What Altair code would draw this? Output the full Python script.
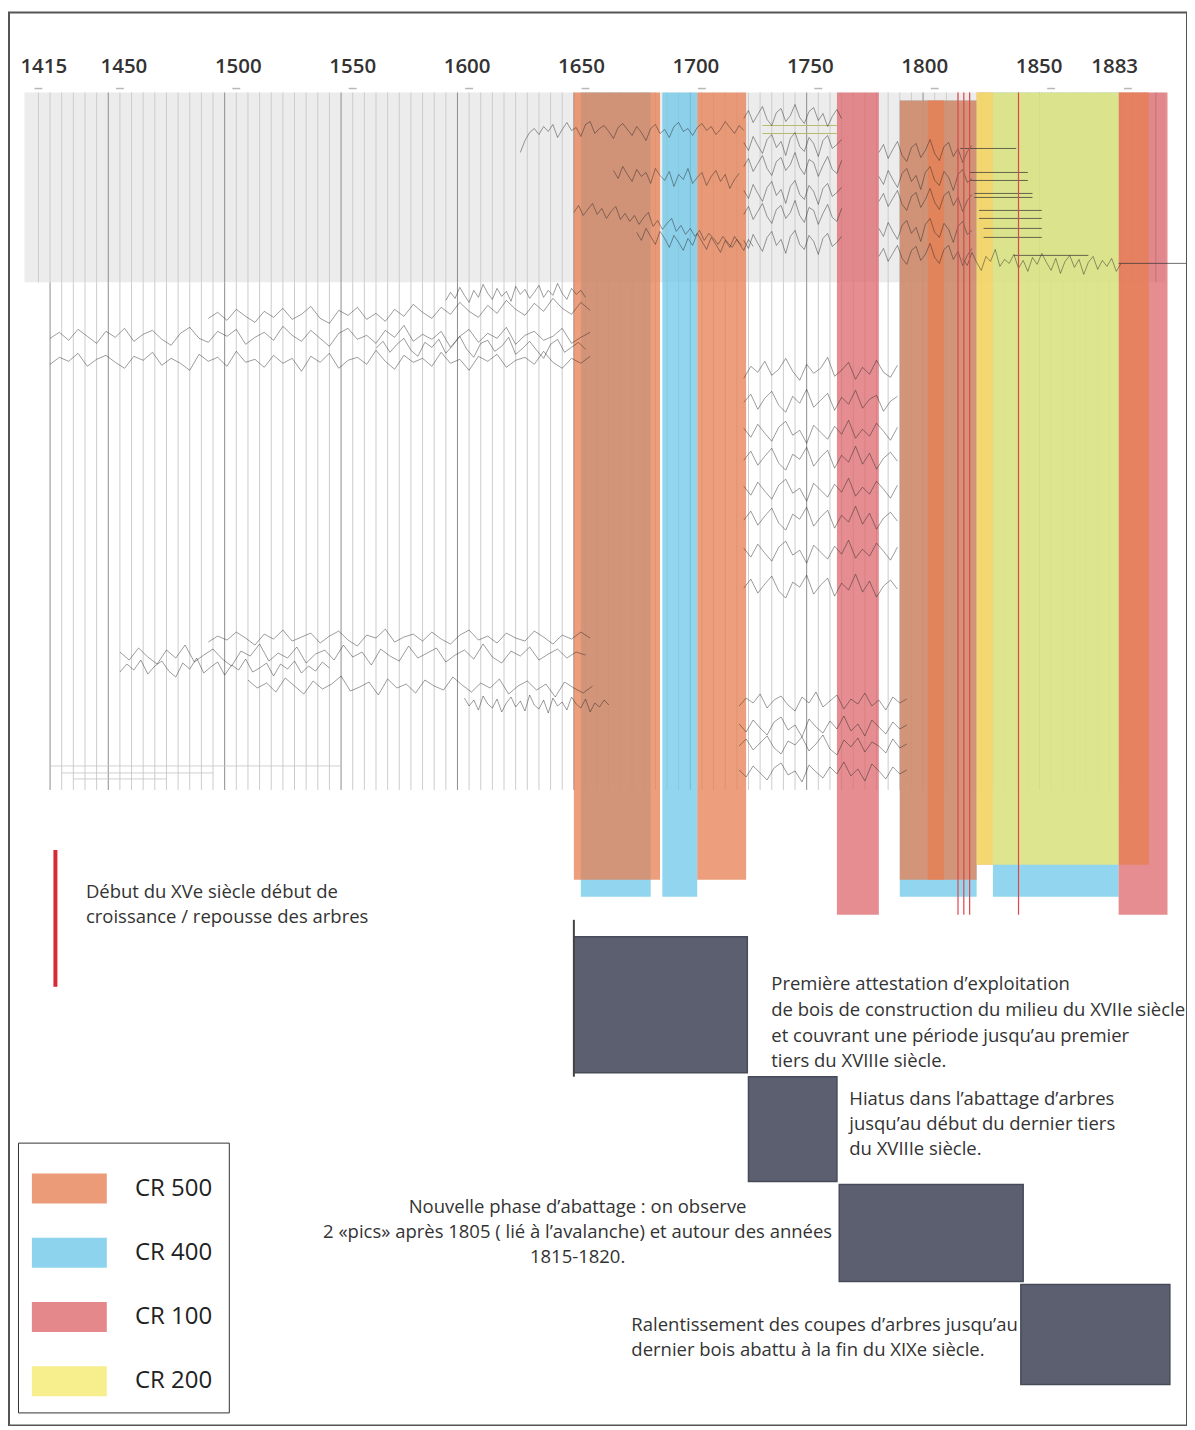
import altair as alt
import pandas as pd

# ---------------- axis / layout data ----------------
TICK_YEARS = [1415, 1450, 1500, 1550, 1600, 1650, 1700, 1750, 1800, 1850, 1883]
TICK_LABELS = ["1415", "1450", "1500", "1550", "1600", "1650", "1700", "1750", "1800", "1850", "1883"]
X_DOMAIN = [1402.36, 1908.37]
LABEL_X_DOMAIN = [1399.78, 1914.63]
Y_DOMAIN = [12, 1426]

GRAY_YEARS = [1409, 1899]
GRAY_ROWS = [92, 282]
UPPER_GRID_YEARS = list(range(1415, 1900, 5))
LOWER_GRID_YEARS = list(range(1420, 1885, 5))
LOWER_ROWS = [282, 790]

# ---------------- tree-ring series (year start, step, values) ----------------
T1 = (1622, 2, [152, 140, 132, 128, 134, 126, 131, 124, 137, 129, 122, 130, 127, 136, 124, 121, 133, 128, 125, 131, 138, 127, 123, 129, 135, 126, 132, 140, 128, 124, 133, 129, 137, 126, 122, 131, 128, 135, 127, 123, 130, 126, 134, 129, 121, 127, 133, 125, 130])
T2 = (1662, 2, [170, 178, 166, 174, 181, 169, 176, 172, 183, 168, 175, 180, 171, 186, 174, 179, 168, 183, 177, 172, 185, 176, 170, 181, 174, 188, 179, 173])
T3 = (1645, 2, [212, 205, 215, 209, 203, 214, 208, 218, 211, 206, 219, 213, 221, 215, 224, 217, 212, 226, 220, 229, 223, 218, 231, 225, 234, 228, 236, 230, 240, 233, 238, 244, 236, 242, 247, 239, 245])
T4 = (1672, 2, [232, 240, 228, 236, 244, 231, 238, 247, 235, 242, 250, 238, 245, 233, 241, 249, 237, 244, 252, 240, 247, 236, 243, 250, 239, 246])
C1 = (1718, 2, [118, 110, 122, 114, 106, 119, 125, 112, 108, 121, 115, 104, 117, 123, 111, 107, 120, 113, 126, 116, 109, 118])
C2 = (1718, 2, [142, 150, 136, 145, 153, 139, 134, 147, 141, 155, 138, 132, 146, 151, 137, 143, 156, 140, 135, 148, 144, 139])
C3 = (1718, 2, [166, 158, 171, 163, 155, 168, 175, 161, 157, 170, 164, 152, 167, 174, 159, 162, 176, 165, 156, 169, 173, 160])
C4 = (1718, 2, [190, 198, 184, 193, 201, 187, 181, 195, 189, 203, 186, 180, 194, 199, 185, 191, 204, 188, 183, 196, 192, 187])
C5 = (1718, 2, [214, 206, 219, 211, 203, 216, 223, 209, 205, 218, 212, 200, 215, 222, 207, 210, 224, 213, 204, 217, 221, 208])
C6 = (1718, 2, [240, 248, 234, 243, 251, 237, 231, 245, 239, 253, 236, 230, 244, 249, 235, 241, 254, 238, 233, 246, 242, 236])
R1 = (1776, 2, [152, 144, 158, 149, 141, 155, 161, 147, 143, 157, 150, 139, 153, 160, 146, 142, 156, 148, 162, 151, 145])
R2 = (1776, 2, [176, 184, 170, 179, 187, 173, 168, 181, 175, 189, 172, 166, 180, 185, 171, 177, 190, 174, 169, 182, 178])
R3 = (1776, 2, [201, 193, 206, 198, 190, 204, 210, 196, 192, 207, 199, 188, 202, 209, 195, 191, 205, 197, 211, 200, 194])
R4 = (1776, 2, [228, 236, 222, 231, 239, 225, 220, 233, 227, 241, 224, 218, 232, 237, 223, 229, 242, 226, 221, 234, 230])
R5 = (1776, 2, [256, 248, 261, 253, 245, 258, 264, 250, 246, 260, 254, 243, 257, 263, 249, 245, 259, 251, 265, 255, 248])
T5 = (1812, 2, [258, 265, 252, 262, 270, 256, 261, 249, 266, 259, 263, 254, 268, 260, 271, 257, 264, 253, 262, 270, 258, 273, 261, 255, 267, 259, 274, 262, 256, 269, 260, 266, 258, 271, 263])

MA = (1420, 4, [338, 332, 340, 329, 336, 343, 331, 337, 328, 341, 334, 330, 339, 345, 333, 327, 338, 342, 331, 336, 329, 344, 337, 332, 340, 326, 335, 341, 330, 338, 346, 333, 328, 339, 335, 343, 330, 337, 325, 341, 334, 339, 331, 347, 336, 329, 342, 333, 338, 327, 344, 335, 331, 340, 336, 328, 343, 337, 332])
MB = (1420, 4, [364, 357, 361, 353, 366, 359, 355, 362, 368, 356, 360, 352, 365, 358, 363, 370, 354, 361, 357, 366, 351, 362, 359, 367, 355, 363, 358, 371, 356, 362, 353, 368, 360, 357, 364, 350, 361, 369, 355, 362, 358, 366, 352, 363, 359, 370, 356, 361, 354, 367, 360, 357, 364, 351, 362, 368, 358, 363, 356])
MC = (1488, 4, [318, 312, 320, 309, 316, 322, 311, 317, 308, 319, 314, 306, 318, 323, 310, 315, 307, 319, 313, 321, 309, 316, 304, 312, 318, 307, 314, 302, 311, 317, 305, 313, 300, 309, 315, 303, 311, 298, 308, 314, 302, 310])
MD = (1590, 2, [300, 292, 298, 287, 295, 302, 290, 297, 284, 293, 299, 288, 296, 291, 301, 286, 294, 289, 298, 292, 285, 297, 290, 295, 283, 293, 299, 288, 294, 290, 297])
ME = (1560, 3, [348, 341, 352, 344, 338, 350, 356, 342, 347, 339, 353, 345, 336, 349, 357, 343, 340, 351, 346, 337, 354, 348, 341, 350, 358, 344, 339, 352, 347, 342, 349])

K1 = (1718, 3, [378, 366, 372, 361, 375, 369, 358, 371, 380, 364, 373, 368, 357, 376, 370, 362, 379, 367, 374, 360, 372, 377, 365])
K2 = (1718, 3, [402, 394, 409, 398, 391, 405, 412, 396, 403, 389, 407, 400, 393, 410, 397, 404, 390, 408, 399, 395, 411, 401, 396])
K3 = (1718, 3, [428, 437, 424, 433, 441, 427, 421, 435, 430, 443, 425, 432, 439, 426, 434, 420, 438, 429, 436, 423, 431, 440, 427])
K4 = (1718, 3, [460, 451, 465, 456, 448, 463, 470, 454, 459, 447, 466, 457, 450, 468, 455, 462, 446, 464, 453, 469, 458, 452, 461])
K5 = (1718, 3, [486, 495, 482, 491, 499, 485, 479, 493, 488, 501, 483, 490, 497, 484, 492, 478, 496, 487, 494, 481, 489, 498, 485])
K6 = (1718, 3, [520, 511, 525, 516, 508, 523, 530, 514, 519, 507, 526, 517, 510, 528, 515, 522, 506, 524, 513, 529, 518, 512, 521])
K7 = (1718, 3, [548, 557, 544, 553, 561, 547, 541, 555, 550, 563, 545, 552, 559, 546, 554, 540, 558, 549, 556, 543, 551, 560, 547])
K8 = (1718, 3, [588, 579, 593, 584, 576, 591, 598, 582, 587, 575, 594, 585, 578, 596, 583, 590, 574, 592, 581, 597, 586, 580, 589])

LA = (1488, 4, [642, 636, 640, 632, 638, 645, 634, 639, 630, 641, 637, 633, 643, 636, 631, 640, 646, 635, 638, 629, 642, 637, 634, 641, 632, 639, 644, 635, 630, 640, 636, 643, 633, 638, 641, 631, 637, 644, 635, 639, 632, 638])
LB = (1450, 4, [652, 660, 648, 657, 664, 650, 658, 645, 662, 655, 649, 659, 666, 651, 656, 644, 661, 653, 658, 647, 663, 654, 650, 660, 645, 657, 652, 665, 649, 656, 661, 646, 658, 653, 648, 662, 655, 650, 659, 644, 657, 663, 651, 656, 647, 660, 654, 649, 658, 652, 655])
LC = (1450, 3, [672, 664, 670, 660, 674, 666, 661, 671, 677, 663, 669, 658, 673, 667, 662, 675, 665, 670, 659, 672, 668, 663, 676, 664, 669, 661, 673, 666, 671, 662, 668])
LD = (1505, 4, [680, 688, 683, 692, 678, 686, 694, 681, 689, 684, 676, 691, 687, 682, 695, 679, 688, 684, 693, 680, 686, 690, 677, 685, 692, 683, 688, 679, 694, 686, 681, 690, 684, 697, 682, 688, 693, 686])
LE = (1598, 2, [698, 706, 700, 710, 696, 704, 708, 699, 712, 703, 697, 707, 701, 711, 695, 705, 709, 700, 713, 698, 706, 702, 710, 697, 704, 708, 699, 712, 703, 707, 700, 705])

Q1 = (1716, 3, [706, 698, 703, 694, 708, 700, 696, 705, 711, 697, 703, 692, 707, 701, 695, 709, 699, 704, 693, 706, 700, 710, 697, 703, 699])
Q2 = (1716, 3, [724, 732, 720, 728, 735, 722, 717, 730, 725, 737, 719, 727, 733, 721, 729, 716, 731, 724, 736, 720, 727, 734, 722, 729, 725])
Q3 = (1716, 3, [746, 739, 750, 743, 736, 748, 754, 741, 745, 737, 751, 744, 735, 749, 755, 740, 747, 738, 752, 742, 746, 753, 739, 748, 744])
Q4 = (1716, 3, [770, 777, 766, 773, 780, 768, 763, 775, 771, 782, 765, 772, 778, 767, 774, 762, 776, 769, 781, 764, 771, 779, 767, 774, 770])

SERIES = {"T1": T1, "T2": T2, "T3": T3, "T4": T4, "C1": C1, "C2": C2, "C3": C3, "C4": C4,
          "C5": C5, "C6": C6, "R1": R1, "R2": R2, "R3": R3, "R4": R4, "R5": R5, "T5": T5,
          "MA": MA, "MB": MB, "MC": MC, "MD": MD, "ME": ME,
          "K1": K1, "K2": K2, "K3": K3, "K4": K4, "K5": K5, "K6": K6, "K7": K7, "K8": K8,
          "LA": LA, "LB": LB, "LC": LC, "LD": LD, "LE": LE,
          "Q1": Q1, "Q2": Q2, "Q3": Q3, "Q4": Q4}

# short sample bars (straight segments)
BAR_START = [1811, 1815, 1815, 1817, 1817, 1819, 1819, 1821, 1821, 1834, 1879]
BAR_END = [1835, 1840, 1840, 1842, 1842, 1846, 1846, 1846, 1846, 1866, 1908]
BAR_ROW = [148, 172, 180, 193, 197, 210, 218, 228, 237, 255, 263]
FAINT_START = [1420, 1425, 1430]
FAINT_END = [1545, 1490, 1470]
FAINT_ROW = [766, 773, 779]
OLIVE_START = [1726, 1726]
OLIVE_END = [1758, 1758]
OLIVE_ROW = [125, 133]

# ---------------- felling bands ----------------
BAND_TYPE = ["CR 400", "CR 400", "CR 400", "CR 400",
             "CR 100", "CR 100",
             "CR 500", "CR 500", "CR 500", "CR 500", "CR 500", "CR 500",
             "CR 200"]
BAND_START = [1648, 1683, 1785, 1825, 1758, 1879, 1645, 1698, 1785, 1797, 1818, 1879, 1818]
BAND_END = [1678, 1698, 1818, 1879, 1776, 1900, 1682, 1719, 1818, 1804, 1825, 1892, 1879]
BAND_TOP = [92, 92, 100, 92, 92, 92, 92, 92, 100, 100, 92, 92, 92]
BAND_BOTTOM = [897, 897, 897, 897, 915, 915, 880, 880, 880, 880, 865, 865, 865]
LEGEND_ORDER = ["CR 500", "CR 400", "CR 100", "CR 200"]
LEGEND_COLORS = ["#e77f52", "#6ec7e8", "#dc676b", "#f5ea6e"]

RED_LINE_YEARS = [1810, 1812.5, 1815, 1836]
RED_LINE_ROWS = [92, 915]

# ---------------- phases ----------------
PHASE_START = [1645, 1720, 1759, 1837]
PHASE_END = [1719.5, 1758, 1838, 1901]
PHASE_TOP = [937, 1077, 1185, 1285]
PHASE_BOTTOM = [1073, 1182, 1282, 1385]

MARKER_YEAR = [1645]
MARKER_ROWS = [920, 1077]
RED_BAR_YEAR = [1422.3]
RED_BAR_ROWS = [850, 987]

# ---------------- annotations ----------------
NOTE_LEFT_YEAR = [1435.4, 1435.4,
                  1729.8, 1729.8, 1729.8, 1729.8,
                  1763.3, 1763.3, 1763.3,
                  1669.7, 1669.7]
NOTE_LEFT_ROW = [892, 917, 984, 1010, 1036, 1061, 1099, 1124, 1149, 1326, 1351]
NOTE_LEFT_TEXT = ["Début du XVe siècle début de",
                  "croissance / repousse des arbres",
                  "Première attestation d’exploitation",
                  "de bois de construction du milieu du XVIIe siècle",
                  "et couvrant une période jusqu’au premier",
                  "tiers du XVIIIe siècle.",
                  "Hiatus dans l’abattage d’arbres",
                  "jusqu’au début du dernier tiers",
                  "du XVIIIe siècle.",
                  "Ralentissement des coupes d’arbres jusqu’au",
                  "dernier bois abattu à la fin du XIXe siècle."]
NOTE_CENTER_YEAR = [1646.6, 1646.6, 1646.6]
NOTE_CENTER_ROW = [1207, 1232, 1257]
NOTE_CENTER_TEXT = ["Nouvelle phase d’abattage : on observe",
                    "2 «pics» après 1805 ( lié à l’avalanche) et autour des années",
                    "1815-1820."]

FONT = "Open Sans"

# ---------------- build tables ----------------
xsc = alt.Scale(domain=X_DOMAIN, nice=False, zero=False)
xsc_labels = alt.Scale(domain=LABEL_X_DOMAIN, nice=False, zero=False)
ysc = alt.Scale(domain=Y_DOMAIN, reverse=True, nice=False, zero=False)


def X(f, scale=xsc):
    return alt.X(f, type="quantitative", scale=scale, axis=None)


def Y(f):
    return alt.Y(f, type="quantitative", scale=ysc, axis=None)


gray_df = pd.DataFrame({"x0": [GRAY_YEARS[0]], "x1": [GRAY_YEARS[1]], "y0": [GRAY_ROWS[0]], "y1": [GRAY_ROWS[1]]})

grid_rows = []
for yr in UPPER_GRID_YEARS:
    grid_rows.append({"x": yr, "y0": GRAY_ROWS[0], "y1": GRAY_ROWS[1], "dark": (yr - 1445) % 50 == 0})
for yr in LOWER_GRID_YEARS:
    grid_rows.append({"x": yr, "y0": LOWER_ROWS[0], "y1": LOWER_ROWS[1], "dark": (yr - 1445) % 50 == 0 or yr == 1420})
grid_df = pd.DataFrame(grid_rows)

tick_df = pd.DataFrame({"year": TICK_YEARS, "label": TICK_LABELS})
tick_df["a"] = tick_df["year"] - 1.7
tick_df["b"] = tick_df["year"] + 1.7
tick_df["row"] = 88
tick_df["lrow"] = 66

line_rows = []
for name, (start, step, vals) in SERIES.items():
    for i, v in enumerate(vals):
        line_rows.append({"series": name, "year": start + i * step, "y": v})
line_df = pd.DataFrame(line_rows)

bar_df = pd.DataFrame({"a": BAR_START, "b": BAR_END, "y": BAR_ROW})
faint_df = pd.DataFrame({"a": FAINT_START, "b": FAINT_END, "y": FAINT_ROW})
olive_df = pd.DataFrame({"a": OLIVE_START, "b": OLIVE_END, "y": OLIVE_ROW})

band_df = pd.DataFrame({"type": BAND_TYPE, "a": BAND_START, "b": BAND_END,
                        "top": BAND_TOP, "bottom": BAND_BOTTOM, "order": list(range(len(BAND_TYPE)))})

red_df = pd.DataFrame({"x": RED_LINE_YEARS, "y0": RED_LINE_ROWS[0], "y1": RED_LINE_ROWS[1]})

phase_df = pd.DataFrame({"a": PHASE_START, "b": PHASE_END, "top": PHASE_TOP, "bottom": PHASE_BOTTOM})
marker_df = pd.DataFrame({"x": MARKER_YEAR, "y0": MARKER_ROWS[0], "y1": MARKER_ROWS[1]})
redbar_df = pd.DataFrame({"x": RED_BAR_YEAR, "y0": RED_BAR_ROWS[0], "y1": RED_BAR_ROWS[1]})

noteL_df = pd.DataFrame({"x": NOTE_LEFT_YEAR, "y": NOTE_LEFT_ROW, "t": NOTE_LEFT_TEXT})
noteC_df = pd.DataFrame({"x": NOTE_CENTER_YEAR, "y": NOTE_CENTER_ROW, "t": NOTE_CENTER_TEXT})

# ---------------- layers ----------------
gray = alt.Chart(gray_df).mark_rect(color="#ececec").encode(
    x=X("x0"), x2="x1", y=Y("y0"), y2="y1")

grid = alt.Chart(grid_df).mark_rule(strokeWidth=1).encode(
    x=X("x"), y=Y("y0"), y2="y1",
    color=alt.condition("datum.dark", alt.value("#8e8e8e"), alt.value("#cccccc")))

ticks = alt.Chart(tick_df).mark_rule(color="#b8b8b8", strokeWidth=1.5).encode(
    x=X("a"), x2="b", y=Y("row"))

tick_labels = alt.Chart(tick_df).mark_text(
    font=FONT, fontSize=20.5, fontWeight=600, color="#333", baseline="middle", align="center"
).encode(x=X("year", xsc_labels), y=Y("lrow"), text="label:N")

lines = alt.Chart(line_df).mark_line(color="#222", strokeWidth=0.75, opacity=0.6).encode(
    x=X("year"), y=Y("y"), detail="series:N")

bars = alt.Chart(bar_df).mark_rule(color="#333", strokeWidth=0.9, opacity=0.8).encode(
    x=X("a"), x2="b", y=Y("y"))
faint = alt.Chart(faint_df).mark_rule(color="#c4c4c4", strokeWidth=0.8).encode(
    x=X("a"), x2="b", y=Y("y"))
olive = alt.Chart(olive_df).mark_rule(color="#b9bb6a", strokeWidth=1).encode(
    x=X("a"), x2="b", y=Y("y"))

bands = alt.Chart(band_df).mark_rect(opacity=0.75).encode(
    x=X("a"), x2="b", y=Y("top"), y2="bottom",
    order=alt.Order("order:Q"),
    color=alt.Color("type:N",
                    scale=alt.Scale(domain=LEGEND_ORDER, range=LEGEND_COLORS),
                    legend=alt.Legend(title=None, orient="none", legendX=9, legendY=1131,
                                      symbolType="M-1.07,-0.5H1.43V0.5H-1.07Z", symbolSize=3600,
                                      symbolOpacity=0.78, symbolStrokeWidth=0,
                                      labelFont=FONT, labelFontSize=24, labelColor="#222",
                                      labelOffset=41, rowPadding=19.3, padding=16,
                                      strokeColor="#333", fillColor="white", labelLimit=300)))

red_lines = alt.Chart(red_df).mark_rule(color="#e0454d", strokeWidth=1.2).encode(
    x=X("x"), y=Y("y0"), y2="y1")

phases = alt.Chart(phase_df).mark_rect(color="#5b5f70", stroke="#474b58", strokeWidth=1.5).encode(
    x=X("a"), x2="b", y=Y("top"), y2="bottom")

marker = alt.Chart(marker_df).mark_rule(color="#444", strokeWidth=2).encode(
    x=X("x"), y=Y("y0"), y2="y1")

redbar = alt.Chart(redbar_df).mark_rule(color="#d62a38", strokeWidth=4).encode(
    x=X("x"), y=Y("y0"), y2="y1")

notesL = alt.Chart(noteL_df).mark_text(font=FONT, fontSize=18.5, color="#333", align="left", baseline="middle").encode(
    x=X("x"), y=Y("y"), text="t:N")
notesC = alt.Chart(noteC_df).mark_text(font=FONT, fontSize=18.5, color="#333", align="center", baseline="middle").encode(
    x=X("x"), y=Y("y"), text="t:N")

chart = alt.layer(
    gray, grid, ticks, faint, olive, bands, lines, bars, red_lines, phases, marker, redbar,
    notesL, notesC, tick_labels
).resolve_scale(x="independent").properties(
    width=1179, height=1414,
    padding={"left": 1, "top": 4, "right": 0, "bottom": 0},
    autosize=alt.AutoSizeParams(type="none"),
    background="white"
).configure_view(stroke="#555", strokeWidth=2)

chart.save("out.html", embed_options={"renderer": "svg", "actions": False})
